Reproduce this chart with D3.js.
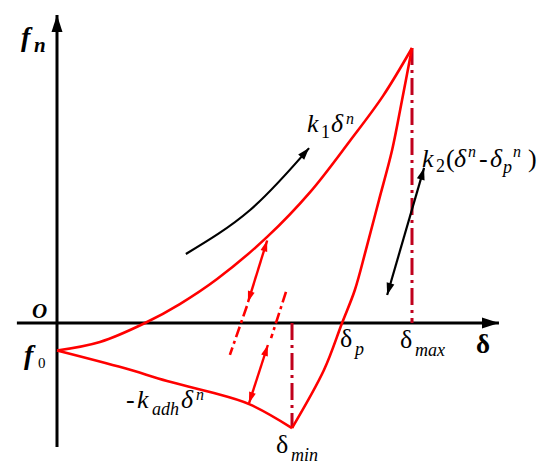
<!DOCTYPE html>
<html>
<head>
<meta charset="utf-8">
<style>
  body { margin: 0; background: #fff; }
</style>
</head>
<body>
<script src="https://cdn.jsdelivr.net/npm/d3@7/dist/d3.min.js"></script>
<script>
// units: delta / delta_max and f / f_max
var loading   = [[0,-0.10],[0.121,-0.069],[0.248,0],[0.346,0.069],[0.451,0.160],[0.592,0.313],[0.713,0.476],[0.825,0.662],[0.918,0.825],[1,1]];
var unloading = [[1,1],[0.972,0.811],[0.944,0.629],[0.907,0.447],[0.870,0.265],[0.839,0.12],[0.803,0],[0.752,-0.171],[0.662,-0.382]];
var adhesion  = [[0,-0.10],[0.189,-0.164],[0.31,-0.211],[0.431,-0.251],[0.541,-0.295],[0.662,-0.382]];

var deltaMax = [1, 1];
var deltaMin = [0.662, -0.382];

// reloading paths inside the loop
var reloadA      = [[0.592,0.300],[0.538,0.076]];
var reloadAdash  = [[0.535,0.062],[0.487,-0.116]];
var reloadBdash  = [[0.645,0.113],[0.603,-0.055]];
var reloadB      = [[0.594,-0.080],[0.541,-0.291]];

// black direction arrows
var loadArrow   = [[0.363,0.251],[0.544,0.411],[0.71,0.636]];
var unloadArrow = [[1.034,0.564],[0.93,0.102]];

var xAxisExtent = [-0.113, 1.245];
var yAxisExtent = [-0.451, 1.12];

var width = 550, height = 474;

var x = d3.scaleLinear().domain([0, 1]).range([57, 412]);
var y = d3.scaleLinear().domain([0, 1]).range([323, 48]);

var svg = d3.select('body').append('svg')
    .attr('width', width)
    .attr('height', height);

var defs = svg.append('defs');
function head(id, color, len, half) {
  defs.append('marker')
    .attr('id', id)
    .attr('markerUnits', 'userSpaceOnUse')
    .attr('viewBox', (-len - 2) + ' ' + (-half - 2) + ' ' + (len + 4) + ' ' + (2 * half + 4))
    .attr('markerWidth', len + 4)
    .attr('markerHeight', 2 * half + 4)
    .attr('refX', 0).attr('refY', 0)
    .attr('orient', 'auto-start-reverse')
  .append('path')
    .attr('d', 'M0,0 L' + (-len) + ',' + (-half) + ' L' + (-len) + ',' + half + ' Z')
    .attr('fill', color);
}
head('axisHead', '#000', 17, 5.5);
head('blackHead', '#000', 12, 4);
head('redHead', '#ff0000', 11, 3.5);

var line = d3.line().x(d => x(d[0])).y(d => y(d[1]));
var smooth = d3.line().x(d => x(d[0])).y(d => y(d[1])).curve(d3.curveCatmullRom.alpha(0.5));

// axes
svg.append('path')
  .attr('d', line([[xAxisExtent[0], 0], [xAxisExtent[1], 0]]))
  .attr('stroke', '#000').attr('stroke-width', 3).attr('fill', 'none')
  .attr('marker-end', 'url(#axisHead)');
svg.append('path')
  .attr('d', line([[0, yAxisExtent[0]], [0, yAxisExtent[1]]]))
  .attr('stroke', '#000').attr('stroke-width', 3).attr('fill', 'none')
  .attr('marker-end', 'url(#axisHead)');

// dash-dot guides at delta_max and delta_min
svg.append('path')
  .attr('d', line([[deltaMax[0], deltaMax[1]], [deltaMax[0], 0]]))
  .attr('stroke', '#c0001c').attr('stroke-width', 3).attr('fill', 'none')
  .attr('stroke-dasharray', '17,5,3,5');
svg.append('path')
  .attr('d', line([[deltaMin[0], 0], [deltaMin[0], deltaMin[1]]]))
  .attr('stroke', '#c0001c').attr('stroke-width', 3).attr('fill', 'none')
  .attr('stroke-dasharray', '17,5,3,5');

// hysteresis loop
[loading, unloading, adhesion].forEach(function(d) {
  svg.append('path')
    .attr('d', smooth(d))
    .attr('stroke', '#ff0000').attr('stroke-width', 2.6).attr('fill', 'none');
});

// reloading lines
[reloadAdash, reloadBdash].forEach(function(d) {
  svg.append('path')
    .attr('d', line(d))
    .attr('stroke', '#ff0000').attr('stroke-width', 2.6).attr('fill', 'none')
    .attr('stroke-dasharray', '11,4,3,4');
});
[reloadA, reloadB].forEach(function(d) {
  svg.append('path')
    .attr('d', line(d))
    .attr('stroke', '#ff0000').attr('stroke-width', 2.4).attr('fill', 'none')
    .attr('marker-start', 'url(#redHead)')
    .attr('marker-end', 'url(#redHead)');
});

// black arrows
svg.append('path')
  .attr('d', d3.line().x(d => x(d[0])).y(d => y(d[1])).curve(d3.curveNatural)(loadArrow))
  .attr('stroke', '#000').attr('stroke-width', 2.2).attr('fill', 'none')
  .attr('marker-end', 'url(#blackHead)');
svg.append('path')
  .attr('d', line(unloadArrow))
  .attr('stroke', '#000').attr('stroke-width', 2.2).attr('fill', 'none')
  .attr('marker-start', 'url(#blackHead)')
  .attr('marker-end', 'url(#blackHead)');

// labels: each piece is its own text element (text, x, baseline, size, style)
function rich(parts) {
  parts.forEach(function(p) {
    svg.append('text')
      .attr('x', p[1]).attr('y', p[2])
      .attr('font-family', 'Liberation Serif')
      .attr('font-size', p[3])
      .attr('font-style', p[4].indexOf('i') >= 0 ? 'italic' : 'normal')
      .attr('font-weight', p[4].indexOf('b') >= 0 ? 'bold' : 'normal')
      .attr('fill', '#000')
      .text(p[0]);
  });
}

rich([['f', 21, 46, 28, 'ib'], ['n', 34, 52, 21, 'ib']]);
rich([['O', 32, 318, 21, 'ib']]);
rich([['f', 24, 364, 28, 'ib'], ['0', 38, 368, 15, '']]);

rich([['k', 307, 132, 26, 'i'], ['1', 321, 138, 18, ''], ['δ', 331, 132, 26, 'i'], ['n', 346, 124, 16, 'i']]);
rich([['k', 422, 167, 26, 'i'], ['2', 436, 172, 18, ''], ['(', 446, 167, 26, ''],
      ['δ', 454, 167, 26, 'i'], ['n', 468, 157, 16, 'i'], ['-', 479, 167, 26, ''],
      ['δ', 490, 167, 26, 'i'], ['p', 503, 173, 18, 'i'], ['n', 513, 157, 16, 'i'],
      [')', 528, 167, 26, '']]);
rich([['-', 126, 408, 26, ''], ['k', 137, 408, 26, 'i'], ['adh', 152, 415, 18, 'i'],
      ['δ', 181, 408, 26, 'i'], ['n', 196, 400, 16, 'i']]);

rich([['δ', 340, 347, 26, ''], ['p', 355, 355, 18, 'i']]);
rich([['δ', 400, 348, 26, ''], ['max', 415, 356, 18, 'i']]);
rich([['δ', 276, 453, 26, ''], ['min', 291, 461, 18, 'i']]);
rich([['δ', 476, 353, 27, 'b']]);
</script>
</body>
</html>
